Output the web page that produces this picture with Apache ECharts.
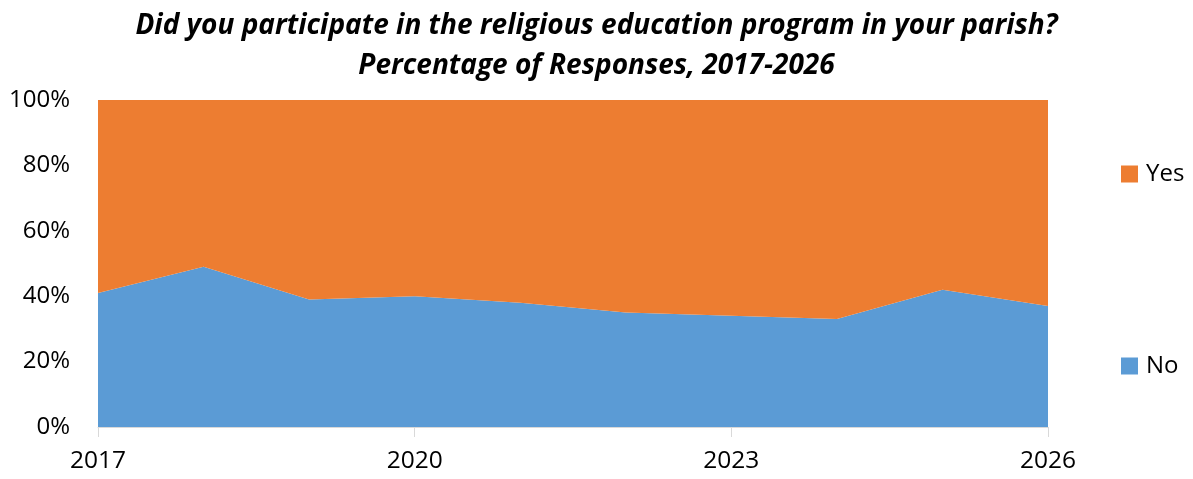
<!DOCTYPE html>
<html><head><meta charset="utf-8">
<script src="https://cdn.jsdelivr.net/npm/echarts@6/dist/echarts.min.js"></script>
<style>html,body{margin:0;padding:0;background:#fff}#c{width:1193px;height:479px}</style>
</head><body><div id="c"></div>
<script>
const years = ['2017','2018','2019','2020','2021','2022','2023','2024','2025','2026'];
const noValues = [41, 49, 39, 40, 38, 35, 34, 33, 42, 37];
const yesValues = [59, 51, 61, 60, 62, 65, 66, 67, 58, 63];
const yTicks = [0, 20, 40, 60, 80, 100];

const FONT = 'Open Sans';
const chart = echarts.init(document.getElementById('c'));
chart.setOption({
  animation: false,
  backgroundColor: '#fff',
  title: {
    text: 'Did you participate in the religious education program in your parish?\nPercentage of Responses, 2017-2026',
    left: 'center', top: 1,
    textStyle: {fontFamily: FONT, fontSize: 28, fontWeight: 'bold', fontStyle: 'italic', color: '#000', lineHeight: 40}
  },
  legend: [
    {data: ['Yes'], orient: 'vertical', left: 1116, top: 157, itemWidth: 17, itemHeight: 17, itemGap: 8,
     textStyle: {fontFamily: FONT, fontSize: 24, color: '#000', padding: [0, 0, 0, 3]}, icon: 'rect', selectedMode: false},
    {data: ['No'], orient: 'vertical', left: 1116, top: 349, itemWidth: 17, itemHeight: 17,
     textStyle: {fontFamily: FONT, fontSize: 24, color: '#000', padding: [0, 0, 0, 3]}, icon: 'rect', selectedMode: false}
  ],
  grid: {left: 98, right: 145, top: 100, bottom: 52, containLabel: false},
  xAxis: {
    type: 'category', data: years, boundaryGap: false,
    axisLine: {show: true, lineStyle: {color: '#d9d9d9', width: 1}},
    axisTick: {show: true, interval: 2, length: 10, lineStyle: {color: '#d9d9d9'}},
    axisLabel: {interval: 2, fontFamily: FONT, fontSize: 24.5, color: '#000', margin: 22},
    z: 10
  },
  yAxis: {
    type: 'value', min: 0, max: 100, interval: 20,
    axisLine: {show: false}, axisTick: {show: false},
    splitLine: {show: false},
    axisLabel: {fontFamily: FONT, fontSize: 24, color: '#000', margin: 28,
      formatter: v => yTicks.includes(v) ? v + '%' : ''}
  },
  series: [
    {name: 'No', type: 'line', stack: 'total', data: noValues, symbol: 'none',
     lineStyle: {width: 0}, areaStyle: {color: '#5b9bd5', opacity: 1}, itemStyle: {color: '#5b9bd5'}},
    {name: 'Yes', type: 'line', stack: 'total', data: yesValues, symbol: 'none',
     lineStyle: {width: 0}, areaStyle: {color: '#ed7d31', opacity: 1}, itemStyle: {color: '#ed7d31'}}
  ]
});
</script></body></html>
